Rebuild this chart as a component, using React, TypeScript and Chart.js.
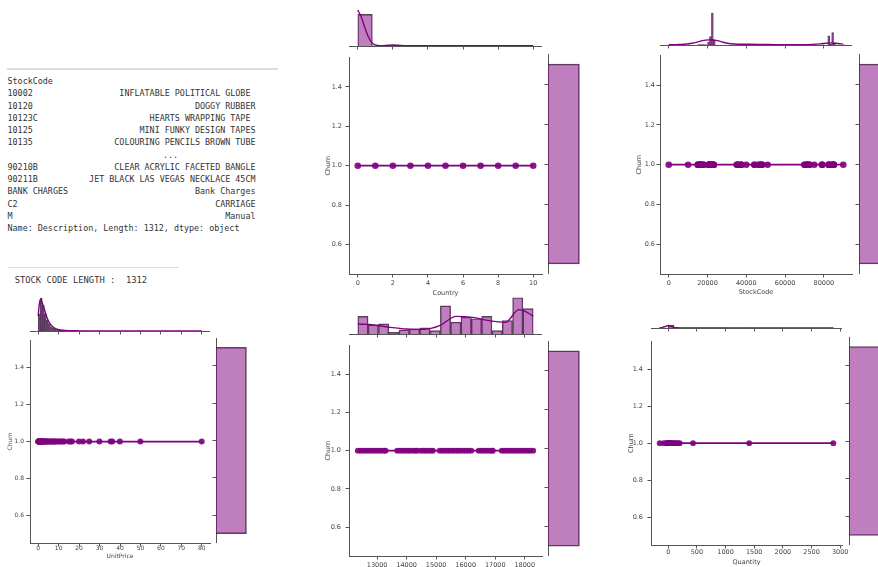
import React, { useEffect, useRef } from 'react';
import { Chart, registerables } from 'chart.js';

Chart.register(...registerables);

const SANS = "'DejaVu Sans', 'Liberation Sans', sans-serif";
const MONO = "'DejaVu Sans Mono', 'Liberation Mono', monospace";
const PURPLE = 'rgb(128,0,128)';
const POINT = 'rgba(128,0,128,0.9)';
const HIST_FILL = 'rgba(128,0,128,0.5)';
const HIST_EDGE = 'rgba(50,25,50,0.8)';
const AX = '#555555';
const TXT = '#444444';

// ---------------- text output ----------------
const stockIndex = ['10002', '10120', '10123C', '10125', '10135', '', '90210B', '90211B', 'BANK CHARGES', 'C2', 'M'];
const stockDesc = [
  'INFLATABLE POLITICAL GLOBE ',
  'DOGGY RUBBER',
  'HEARTS WRAPPING TAPE ',
  'MINI FUNKY DESIGN TAPES',
  'COLOURING PENCILS BROWN TUBE',
  '...',
  'CLEAR ACRYLIC FACETED BANGLE',
  'JET BLACK LAS VEGAS NECKLACE 45CM',
  'Bank Charges',
  'CARRIAGE',
  'Manual',
];
const stockCodeLength = 1312;

// ---------------- shared (Churn) ----------------
const CHURN = 1.0;
const churnBinCenters = [0, 1, 2];
const churnBinCounts = [0, 4372, 0];
const churnTicks = [0.6, 0.8, 1.0, 1.2, 1.4];
const churnRange = { min: 0.45, max: 1.55 };
const churnCountMax = 4590;

// ---------------- Country ----------------
const countryX = [0, 1, 2, 3, 4, 5, 6, 7, 8, 9, 10];
const countryTicks = [0, 2, 4, 6, 8, 10];
const countryHistCounts = [3950, 30, 95, 25, 40, 0, 30, 20, 60, 35, 30, 57];
const countryKdeX = [0, 0.2, 0.4, 0.6, 0.8, 1.0, 1.3, 1.7, 2.0, 2.3, 2.7, 3.2, 4, 5, 6, 7, 8, 9, 10];
const countryKdeY = [4480, 3600, 2300, 1150, 420, 130, 45, 90, 130, 95, 45, 30, 35, 30, 28, 30, 35, 35, 40];

// ---------------- StockCode ----------------
const stockCodeX = [
  0, 10002, 15036, 15044, 15056, 16008, 16011, 16045, 16161, 16169, 17003, 17012, 17084, 18007, 18098,
  20610, 20665, 20668, 20712, 20713, 20724, 21002, 21154, 21500, 21700, 22000, 22138, 22423, 22500, 22720,
  23084, 23200, 23300, 35004, 35471, 35600, 35961, 36000, 37370, 37446, 37500, 40001, 44091, 44234, 46000,
  46776, 47310, 47503, 47566, 48173, 48185, 51014, 70006, 70007, 71053, 71270, 71406, 71459, 72131, 72349,
  72741, 75049, 79000, 79066, 79321, 82484, 82494, 82580, 82600, 84029, 84077, 84406, 84879, 85014, 85099,
  85123, 85150, 90000,
];
const stockTicks = [0, 20000, 40000, 60000, 80000];
const stockHistCounts = [
  12, 0, 0, 0, 0, 0, 0, 0, 0, 0,
  18, 0, 0, 0, 0, 22, 30, 26, 20, 15,
  160, 520, 1950, 280, 0, 0, 0, 0, 0, 0,
  0, 0, 0, 0, 0, 30, 25, 22, 0, 0,
  15, 0, 0, 0, 12, 0, 18, 30, 14, 0,
  0, 10, 0, 0, 0, 0, 0, 0, 0, 0,
  0, 0, 0, 0, 0, 0, 0, 0, 0, 0,
  25, 35, 22, 0, 0, 12, 0, 0, 0, 14,
  0, 0, 560, 40, 760, 120, 0, 0, 0, 0,
  12,
];
const stockKdeX = [0, 4000, 8000, 12000, 16000, 19000, 22000, 25000, 28000, 32000, 36000, 42000, 48000, 55000, 62000, 68000, 74000, 78000, 81000, 84000, 87000, 90000];
const stockKdeY = [15, 25, 50, 110, 220, 300, 320, 270, 170, 80, 50, 45, 35, 20, 15, 20, 40, 70, 110, 130, 95, 50];

// ---------------- UnitPrice ----------------
const unitPriceX = [
  0, 0.12, 0.21, 0.29, 0.38, 0.42, 0.55, 0.63, 0.72, 0.85, 0.95, 1.06, 1.25, 1.45, 1.65, 1.85, 2.08, 2.25,
  2.46, 2.75, 2.95, 3.25, 3.5, 3.75, 4.15, 4.5, 4.95, 5.45, 5.95, 6.35, 6.95, 7.5, 7.95, 8.5, 9.15, 9.95,
  10.65, 11.2, 12.1, 12.75, 14.95, 15.8, 16.5, 19.95, 21.9, 24.96, 29.95, 35.4, 36.2, 39.95, 49.95, 79.95,
];
const unitTicks = [0, 10, 20, 30, 40, 50, 60, 70, 80];
const unitHistCounts = [
  600, 1150, 900, 600, 380, 250, 150, 95, 60, 40,
  30, 16, 10, 6, 4, 5, 4, 2, 1, 3,
  2, 1, 1, 0, 1, 1, 0, 0, 0, 1,
  0, 0, 0, 0, 0, 1, 1, 0, 0, 1,
  0, 0, 0, 0, 0, 0, 0, 0, 0, 1,
  0, 0, 0, 0, 0, 0, 0, 0, 0, 0,
  0, 0, 0, 0, 0, 0, 0, 0, 0, 0,
  0, 0, 0, 0, 0, 0, 0, 0, 0, 1,
];
const unitKdeX = [0, 0.5, 1, 1.5, 2, 3, 4, 5, 6, 8, 10, 12, 15, 20, 30, 40, 50, 60, 70, 80];
const unitKdeY = [520, 900, 1100, 1080, 980, 760, 530, 350, 230, 105, 50, 25, 12, 6, 3, 2, 2, 1, 1, 1];

// ---------------- CustomerID ----------------
const customerX = [
  12346, 12435, 12521, 12612, 12700, 12789, 12877, 12966, 13054, 13143, 13231, 13290,
  13680, 13768, 13857, 13945, 14034, 14122, 14211, 14299, 14350,
  14470, 14558, 14647, 14735, 14824, 14890,
  15120, 15209, 15297, 15386, 15474, 15563, 15651, 15740, 15828, 15917, 16005, 16094, 16190,
  16440, 16528, 16617, 16705, 16794, 16882, 16920,
  17220, 17308, 17397, 17485, 17574, 17662, 17751, 17839, 17928, 18016, 18105, 18193, 18287,
];
const customerTicks = [13000, 14000, 15000, 16000, 17000, 18000];
const customerHistCounts = [341, 177, 197, 33, 79, 98, 118, 66, 545, 230, 328, 295, 341, 66, 262, 702, 492];
const customerKdeX = [12346, 12886, 13445, 14004, 14561, 15119, 15678, 16236, 16794, 17352, 17797, 18050, 18287];
const customerKdeY = [194, 174, 129, 97, 90, 161, 342, 322, 258, 226, 471, 430, 340];

// ---------------- Quantity ----------------
const quantityX = [-150, -80, -40, -24, -12, -6, -2, 1, 2, 4, 6, 8, 12, 18, 24, 36, 48, 60, 72, 96, 120, 144, 168, 200, 432, 1412, 2880];
const quantityTicks = [0, 500, 1000, 1500, 2000, 2500, 3000];
const quantityHistCounts = [
  3, 45, 3900, 330, 50, 20, 10, 5, 3, 2,
  1, 1, 0, 0, 0, 0, 1, 0, 0, 0,
  0, 0, 0, 0, 0, 0, 0, 0, 0, 0,
  1,
];
const quantityKdeX = [-150, -100, -50, 0, 50, 100, 150, 200, 300, 500, 1000, 1500, 2000, 2500, 2880];
const quantityKdeY = [300, 900, 2100, 3300, 2100, 900, 350, 150, 60, 30, 12, 8, 5, 4, 3];

// ---------------- panel configuration ----------------
type Geo = {
  L: number; R: number; T: number; B: number;
  mT: number; mB: number; rL: number; rR: number;
  xTickY: number; xTitleY: number; yTickR: number; yTitleX: number;
  font: number; r: number;
};
type Panel = {
  key: string; label: string; xs: number[]; ticks: number[];
  xMin: number; xMax: number;
  histStart: number; histWidth: number; hist: number[];
  kdeX: number[]; kdeY: number[]; topMax: number;
  g: Geo;
};

const panels: Panel[] = [
  {
    key: 'country', label: 'Country', xs: countryX, ticks: countryTicks, xMin: -0.5, xMax: 10.5,
    histStart: 0, histWidth: 10 / 12, hist: countryHistCounts, kdeX: countryKdeX, kdeY: countryKdeY, topMax: 4735,
    g: { L: 349, R: 542, T: 54, B: 274, mT: 8, mB: 46, rL: 548, rR: 581, xTickY: 283, xTitleY: 293, yTickR: 342, yTitleX: 328, font: 6.5, r: 3.3 },
  },
  {
    key: 'stock', label: 'StockCode', xs: stockCodeX, ticks: stockTicks, xMin: -4500, xMax: 94500,
    histStart: 0, histWidth: 1000, hist: stockHistCounts, kdeX: stockKdeX, kdeY: stockKdeY, topMax: 2255,
    g: { L: 660, R: 852, T: 54, B: 274, mT: 8, mB: 45, rL: 859, rR: 892, xTickY: 283, xTitleY: 292, yTickR: 655, yTitleX: 639, font: 6.5, r: 3.3 },
  },
  {
    key: 'unit', label: 'UnitPrice', xs: unitPriceX, ticks: unitTicks, xMin: -4, xMax: 84,
    histStart: 0, histWidth: 1, hist: unitHistCounts, kdeX: unitKdeX, kdeY: unitKdeY, topMax: 1255,
    g: { L: 30, R: 210, T: 338, B: 543, mT: 295, mB: 331, rL: 216, rR: 248, xTickY: 548, xTitleY: 556, yTickR: 24, yTitleX: 11, font: 6, r: 3 },
  },
  {
    key: 'customer', label: 'CustomerID', xs: customerX, ticks: customerTicks, xMin: 12049, xMax: 18584,
    histStart: 12346, histWidth: (18287 - 12346) / 17, hist: customerHistCounts, kdeX: customerKdeX, kdeY: customerKdeY, topMax: 755,
    g: { L: 349, R: 542, T: 341, B: 556, mT: 295, mB: 334, rL: 548, rR: 581, xTickY: 565, xTitleY: 577, yTickR: 341, yTitleX: 328, font: 6.5, r: 2.9 },
  },
  {
    key: 'quantity', label: 'Quantity', xs: quantityX, ticks: quantityTicks, xMin: -301.5, xMax: 3031.5,
    histStart: -200, histWidth: 100, hist: quantityHistCounts, kdeX: quantityKdeX, kdeY: quantityKdeY, topMax: 44000,
    g: { L: 651, R: 842, T: 337, B: 545, mT: 295, mB: 328, rL: 849, rR: 882, xTickY: 552, xTitleY: 562, yTickR: 643, yTitleX: 631, font: 6.5, r: 2.9 },
  },
];

const PT = 4;
const PR = 12;
const MH = 4;
const RW = 4;
const TICK = 3.5;

function gridOpts() {
  return { offset: false, drawOnChartArea: false, drawTicks: true, tickLength: TICK, tickColor: AX, tickWidth: 1 };
}
function borderOpts() {
  return { display: true, color: AX, width: 1 };
}
function fixedTicks(values: number[]) {
  return (s: any) => {
    s.ticks = values.map((value) => ({ value }));
  };
}
function noTicks(s: any) {
  s.ticks = [];
}
// histogram bars fill their whole bin: width taken from neighbouring bin centres
const HIST_BAR = {
  barThickness: 'flex',
  barPercentage: 1,
  categoryPercentage: 1,
  inflateAmount: 0.3,
};
const BASE_OPTS = {
  responsive: false,
  animation: false as const,
  events: [] as any[],
};
const NO_PLUGINS = { legend: { display: false }, tooltip: { enabled: false } };

function JointPlot({ p }: { p: Panel }) {
  const mainRef = useRef<HTMLCanvasElement | null>(null);
  const topRef = useRef<HTMLCanvasElement | null>(null);
  const kdeRef = useRef<HTMLCanvasElement | null>(null);
  const rightRef = useRef<HTMLCanvasElement | null>(null);
  const g = p.g;
  const lh = g.font * 1.2;
  const yw = Math.round(g.L - g.yTitleX + lh / 2);
  const xh = Math.round(g.xTitleY - g.B + lh / 2);
  const xpad = Math.max(-2, g.xTickY - g.B - TICK - lh / 2);
  const ypad = g.L - g.yTickR - TICK;

  const mainBox = { left: g.L - yw, top: g.T - PT, width: g.R - g.L + yw + PR, height: g.B - g.T + PT + xh };
  const topBox = { left: g.L, top: g.mT, width: g.R - g.L, height: g.mB - g.mT + MH };
  const rightBox = { left: g.rL - RW, top: g.T, width: g.rR - g.rL + RW, height: g.B - g.T };

  useEffect(() => {
    const charts: Chart[] = [];
    const font = { size: g.font, family: SANS };
    const xLo = Math.min(...p.xs);
    const xHi = Math.max(...p.xs);

    if (mainRef.current) {
      charts.push(new Chart(mainRef.current, {
        type: 'scatter',
        data: {
          datasets: [
            {
              type: 'line',
              data: [{ x: xLo, y: CHURN }, { x: xHi, y: CHURN }],
              borderColor: PURPLE,
              borderWidth: 1.8,
              pointRadius: 0,
              order: 1,
            } as any,
            {
              type: 'scatter',
              data: p.xs.map((x) => ({ x, y: CHURN })),
              backgroundColor: POINT,
              borderWidth: 0,
              pointRadius: g.r,
              order: 0,
            },
          ],
        },
        options: {
          ...BASE_OPTS,
          layout: { padding: { top: PT, right: PR, left: 0, bottom: 0 } },
          plugins: NO_PLUGINS,
          scales: {
            x: {
              type: 'linear',
              offset: false,
              min: p.xMin,
              max: p.xMax,
              border: borderOpts(),
              grid: gridOpts(),
              afterBuildTicks: fixedTicks(p.ticks),
              ticks: {
                autoSkip: false,
                maxRotation: 0,
                minRotation: 0,
                font,
                color: TXT,
                padding: xpad,
                callback: (v: any) => String(v),
              },
              title: { display: true, text: p.label, font, color: TXT, padding: { top: 0, bottom: 0 } },
              afterFit: (s: any) => { s.height = xh; },
            } as any,
            y: {
              type: 'linear',
              offset: false,
              min: churnRange.min,
              max: churnRange.max,
              border: borderOpts(),
              grid: gridOpts(),
              afterBuildTicks: fixedTicks(churnTicks),
              ticks: {
                autoSkip: false,
                font,
                color: TXT,
                padding: ypad,
                callback: (v: any) => Number(v).toFixed(1),
              },
              title: { display: true, text: 'Churn', font, color: TXT, padding: { top: 0, bottom: 0 } },
              afterFit: (s: any) => { s.width = yw; },
            } as any,
          },
        } as any,
      }));
    }

    // top marginal: histogram bars + axis
    if (topRef.current) {
      charts.push(new Chart(topRef.current, {
        type: 'bar',
        data: {
          datasets: [
            {
              data: p.hist.map((c, i) => ({ x: p.histStart + (i + 0.5) * p.histWidth, y: c })),
              backgroundColor: HIST_FILL,
              borderColor: HIST_EDGE,
              borderWidth: 0.8,
              ...HIST_BAR,
              xAxisID: 'xb',
              yAxisID: 'y',
            } as any,
          ],
        },
        options: {
          ...BASE_OPTS,
          layout: { padding: 0 },
          plugins: NO_PLUGINS,
          scales: {
            x: {
              type: 'linear',
              axis: 'x',
              position: 'bottom',
              offset: false,
              min: p.xMin,
              max: p.xMax,
              border: borderOpts(),
              grid: gridOpts(),
              afterBuildTicks: fixedTicks(p.ticks),
              ticks: { display: false },
              afterFit: (s: any) => { s.height = MH; },
            } as any,
            xb: {
              type: 'linear',
              axis: 'x',
              position: 'bottom',
              offset: false,
              grid: { offset: false },
              min: p.xMin,
              max: p.xMax,
              display: false,
              afterBuildTicks: noTicks,
            } as any,
            y: { type: 'linear', offset: false, min: 0, max: p.topMax, display: false },
          },
        } as any,
      }));
    }

    // top marginal: KDE curve, same geometry, overlaid
    if (kdeRef.current) {
      charts.push(new Chart(kdeRef.current, {
        type: 'line',
        data: {
          datasets: [
            {
              data: p.kdeX.map((x, i) => ({ x, y: p.kdeY[i] })),
              borderColor: PURPLE,
              borderWidth: 1.4,
              pointRadius: 0,
              fill: false,
              cubicInterpolationMode: 'monotone',
            } as any,
          ],
        },
        options: {
          ...BASE_OPTS,
          layout: { padding: { top: 0, left: 0, right: 0, bottom: MH } },
          plugins: NO_PLUGINS,
          scales: {
            x: { type: 'linear', offset: false, min: p.xMin, max: p.xMax, display: false },
            y: { type: 'linear', offset: false, min: 0, max: p.topMax, display: false },
          },
        } as any,
      }));
    }

    if (rightRef.current) {
      charts.push(new Chart(rightRef.current, {
        type: 'bar',
        data: {
          datasets: [
            {
              data: churnBinCenters.map((c, i) => ({ x: churnBinCounts[i], y: c })),
              backgroundColor: HIST_FILL,
              borderColor: HIST_EDGE,
              borderWidth: 1,
              ...HIST_BAR,
              xAxisID: 'x',
              yAxisID: 'yb',
            } as any,
          ],
        },
        options: {
          ...BASE_OPTS,
          indexAxis: 'y',
          layout: { padding: 0 },
          plugins: NO_PLUGINS,
          scales: {
            x: { type: 'linear', axis: 'x', offset: false, min: 0, max: churnCountMax, display: false },
            y: {
              type: 'linear',
              axis: 'y',
              position: 'left',
              offset: false,
              min: churnRange.min,
              max: churnRange.max,
              border: borderOpts(),
              grid: gridOpts(),
              afterBuildTicks: fixedTicks(churnTicks),
              ticks: { display: false },
              afterFit: (s: any) => { s.width = RW; },
            } as any,
            yb: {
              type: 'linear',
              axis: 'y',
              position: 'left',
              offset: false,
              grid: { offset: false },
              min: churnRange.min,
              max: churnRange.max,
              display: false,
              afterBuildTicks: noTicks,
            } as any,
          },
        } as any,
      }));
    }

    return () => {
      charts.forEach((c) => c.destroy());
    };
  }, []);

  const abs = (b: { left: number; top: number }) => ({ position: 'absolute' as const, left: b.left, top: b.top });
  return (
    <>
      <canvas ref={topRef} width={topBox.width} height={topBox.height} style={abs(topBox)} />
      <canvas ref={kdeRef} width={topBox.width} height={topBox.height} style={abs(topBox)} />
      <canvas ref={mainRef} width={mainBox.width} height={mainBox.height} style={abs(mainBox)} />
      <canvas ref={rightRef} width={rightBox.width} height={rightBox.height} style={abs(rightBox)} />
    </>
  );
}

const LINE_H = 12.25;
const FIRST_LINE_Y = 81;
const DESC_RIGHT = 255.5;

function TextOutput() {
  const base: React.CSSProperties = {
    position: 'absolute',
    height: 12,
    lineHeight: '12px',
    fontFamily: MONO,
    fontSize: 8.4,
    color: '#333333',
    whiteSpace: 'pre',
  };
  const top = (i: number) => FIRST_LINE_Y + i * LINE_H - 6;
  return (
    <>
      <div style={{ position: 'absolute', left: 7, top: 68, width: 271, height: 1.5, background: '#dddddd' }} />
      <div style={{ ...base, left: 7.5, top: top(0) }}>StockCode</div>
      {stockIndex.map((idx, i) => (
        <React.Fragment key={i}>
          {idx !== '' && <div style={{ ...base, left: 7.5, top: top(i + 1) }}>{idx}</div>}
          {stockDesc[i] === '...' ? (
            <div style={{ ...base, left: 163, top: top(i + 1) }}>{stockDesc[i]}</div>
          ) : (
            <div style={{ ...base, left: 0, width: DESC_RIGHT, textAlign: 'right', top: top(i + 1) }}>{stockDesc[i]}</div>
          )}
        </React.Fragment>
      ))}
      <div style={{ ...base, left: 7.5, top: top(12) }}>{`Name: Description, Length: ${stockCodeLength}, dtype: object`}</div>
      <div style={{ position: 'absolute', left: 8, top: 266.5, width: 171, height: 1.5, background: '#dddddd' }} />
      <div style={{ ...base, left: 14.7, top: 274, fontSize: 8.8 }}>{`STOCK CODE LENGTH :  ${stockCodeLength}`}</div>
    </>
  );
}

export default function App() {
  return (
    <div style={{ position: 'absolute', left: 0, top: 0, width: 878, height: 567, overflow: 'hidden', background: '#ffffff' }}>
      <TextOutput />
      {panels.map((p) => (
        <JointPlot key={p.key} p={p} />
      ))}
    </div>
  );
}
